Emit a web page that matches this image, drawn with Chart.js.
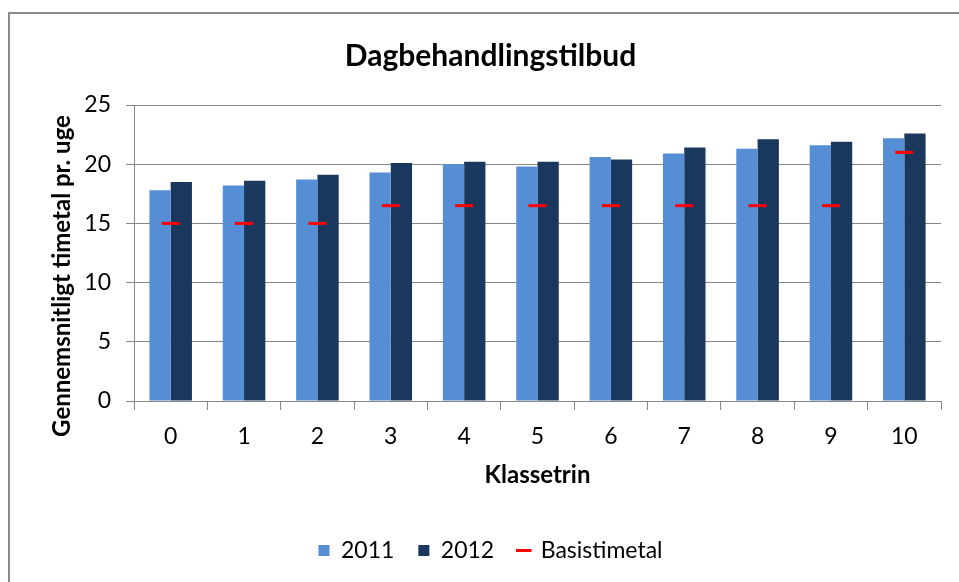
<!DOCTYPE html>
<html>
<head>
<meta charset="utf-8">
<script src="https://cdn.jsdelivr.net/npm/chart.js@4"></script>
<style>
  html, body { margin: 0; padding: 0; background: #fff; overflow: hidden; }
  #wrap { position: relative; width: 959px; height: 582px; }
  #frame { position: absolute; left: 8px; top: 12px; width: 1000px; height: 700px; border: 2px solid #8a8a8a; box-sizing: border-box; }
  canvas { position: absolute; left: 0; top: 0; }
</style>
</head>
<body>
<div id="wrap">
  <div id="frame"></div>
  <canvas id="chart" width="959" height="582"></canvas>
</div>
<script>
// data
const klassetrin = ['0', '1', '2', '3', '4', '5', '6', '7', '8', '9', '10'];
const values2011 = [17.8, 18.2, 18.7, 19.3, 20.0, 19.8, 20.6, 20.9, 21.3, 21.6, 22.2];
const values2012 = [18.5, 18.6, 19.1, 20.1, 20.2, 20.2, 20.4, 21.4, 22.1, 21.9, 22.6];
const basistimetal = [15, 15, 15, 16.5, 16.5, 16.5, 16.5, 16.5, 16.5, 16.5, 21];
const yMin = 0;
const yMax = 25;
const yStep = 5;
const yTitle = 'Gennemsnitligt timetal pr. uge';

const FONT = 'Lato, "Open Sans", sans-serif';
const gridColor = '#878787';

// y axis title sits a bit lower than the plot centre in the original, so draw it by hand
const yTitlePlugin = {
  id: 'yTitle',
  afterDraw(chart) {
    const ctx = chart.ctx;
    ctx.save();
    ctx.translate(62, 276);
    ctx.rotate(-Math.PI / 2);
    ctx.font = 'bold 24px ' + FONT;
    ctx.fillStyle = '#000';
    ctx.textAlign = 'center';
    ctx.textBaseline = 'middle';
    ctx.fillText(yTitle, 0, 0);
    ctx.restore();
  }
};

new Chart(document.getElementById('chart'), {
  type: 'bar',
  data: {
    labels: klassetrin,
    datasets: [
      {
        label: '2011',
        data: values2011,
        backgroundColor: '#558ED5',
        pointStyle: 'rect',
        order: 1
      },
      {
        label: '2012',
        data: values2012,
        backgroundColor: '#1A375E',
        pointStyle: 'rect',
        order: 2
      },
      {
        type: 'line',
        label: 'Basistimetal',
        data: basistimetal,
        showLine: false,
        borderColor: '#FF0000',
        backgroundColor: '#FF0000',
        borderWidth: 3,
        pointStyle: 'line',
        pointRadius: 9,
        pointHoverRadius: 9,
        pointBorderWidth: 3,
        order: 0
      }
    ]
  },
  options: {
    responsive: false,
    animation: false,
    devicePixelRatio: 1,
    categoryPercentage: 0.58,
    barPercentage: 1.0,
    layout: { padding: { left: 40, right: 18, top: 0, bottom: 10 } },
    plugins: {
      tooltip: { enabled: false },
      title: {
        display: true,
        text: 'Dagbehandlingstilbud',
        color: '#000',
        font: { family: FONT, size: 30, weight: 'bold' },
        padding: { top: 38, bottom: 31 }
      },
      legend: {
        position: 'bottom',
        labels: {
          usePointStyle: true,
          boxWidth: 11,
          boxHeight: 11,
          padding: 24,
          color: '#000',
          font: { family: FONT, size: 23 },
          sort: (a, b) => a.datasetIndex - b.datasetIndex
        }
      }
    },
    scales: {
      x: {
        offset: true,
        grid: { offset: true, drawOnChartArea: false, drawTicks: true, tickLength: 9, color: gridColor },
        border: { color: gridColor },
        ticks: { color: '#000', font: { family: FONT, size: 23 }, padding: 13 },
        title: {
          display: true,
          text: 'Klassetrin',
          color: '#000',
          font: { family: FONT, size: 24, weight: 'bold' },
          padding: { top: 4, bottom: 25 }
        },
        afterFit: (scale) => { scale.height = 114; }
      },
      y: {
        min: yMin,
        max: yMax,
        ticks: { stepSize: yStep, color: '#000', font: { family: FONT, size: 23 }, padding: 15 },
        grid: { color: gridColor, tickLength: 8 },
        border: { color: gridColor },
        afterFit: (scale) => { scale.width = 94; }
      }
    }
  },
  plugins: [yTitlePlugin]
});
</script>
</body>
</html>
